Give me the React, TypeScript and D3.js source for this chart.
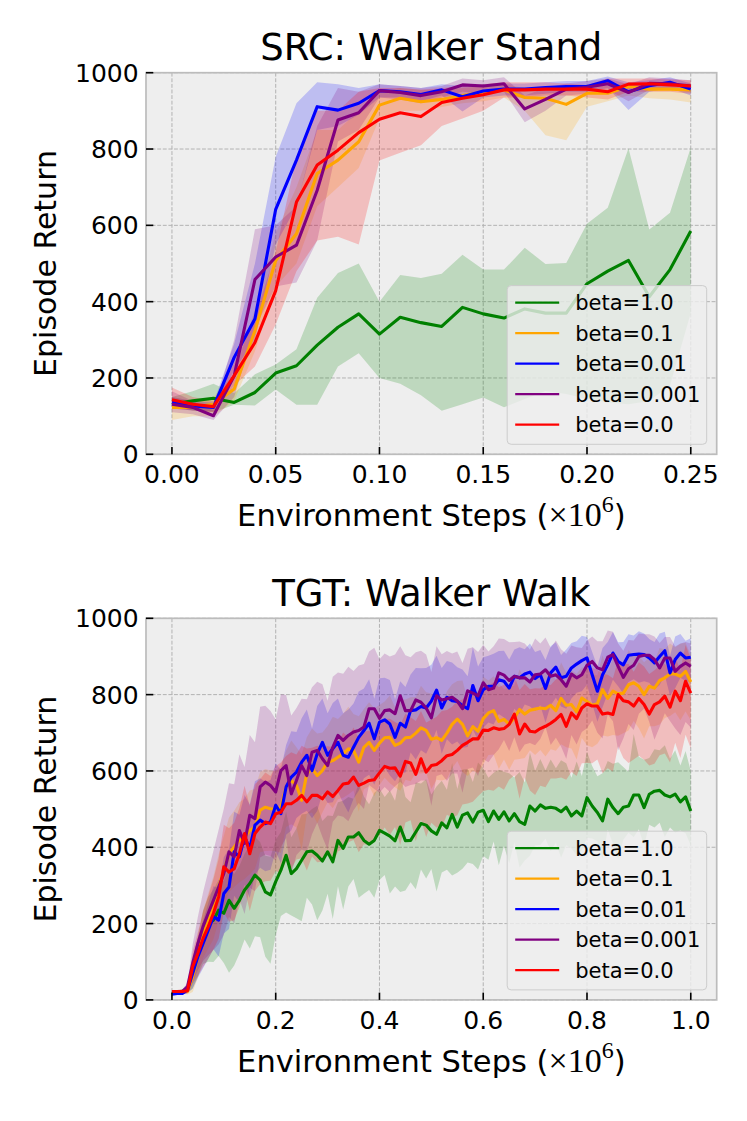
import * as d3 from "d3";

const W = 747;
const H = 1121;
const FONT = "DejaVu Sans, Verdana, sans-serif";
const MATH = "Liberation Serif, DejaVu Serif, serif";
const AX = { left: 146, right: 716.7, height: 381.6 };

// ---- shared labels ----
const betaLabels = ["beta=1.0", "beta=0.1", "beta=0.01", "beta=0.001", "beta=0.0"];
const betaColors = ["#008000", "#ffa500", "#0000ff", "#800080", "#ff0000"];
const yTicks = [0, 200, 400, 600, 800, 1000];
const srcXTicks = [0, 0.05, 0.1, 0.15, 0.2, 0.25];
const tgtXTicks = [0, 0.2, 0.4, 0.6, 0.8, 1.0];

// ---- SRC: Walker Stand (x step 0.01, 0 .. 0.25) ----
const srcStep = 0.01;
const srcBeta1 = [131, 140, 147, 136, 162, 213, 232, 286, 333, 368, 315, 359, 345, 335, 385, 368, 357, 381, 370, 370, 447, 480, 508, 413, 484, 585];
const srcBeta1Lo = [125, 115, 110, 130, 128, 170, 130, 130, 230, 265, 200, 185, 155, 114, 131, 149, 123, 145, 166, 158, 145, 136, 131, 140, 180, 370];
const srcBeta1Hi = [150, 165, 185, 160, 210, 235, 275, 410, 475, 500, 400, 470, 462, 473, 523, 484, 484, 541, 499, 501, 604, 646, 802, 589, 633, 804];
const srcBeta01 = [123, 123, 131, 171, 324, 508, 578, 736, 771, 819, 915, 933, 924, 930, 940, 949, 955, 935, 933, 917, 946, 946, 964, 957, 957, 955];
const srcBeta01Lo = [90, 100, 100, 140, 270, 440, 500, 650, 700, 750, 880, 900, 900, 910, 920, 925, 935, 900, 836, 823, 911, 925, 940, 933, 930, 922];
const srcBeta01Hi = [150, 140, 150, 210, 380, 580, 700, 850, 850, 900, 950, 960, 955, 955, 960, 965, 970, 960, 960, 955, 965, 965, 975, 970, 970, 975];
const srcBeta001 = [136, 127, 123, 254, 355, 642, 771, 911, 902, 920, 953, 950, 943, 955, 937, 952, 957, 957, 961, 964, 964, 979, 950, 966, 975, 957];
const srcBeta001Lo = [120, 115, 112, 220, 300, 550, 650, 850, 860, 890, 935, 935, 925, 940, 898, 935, 940, 940, 945, 950, 950, 960, 902, 950, 960, 940];
const srcBeta001Hi = [150, 140, 135, 290, 500, 780, 920, 975, 970, 960, 970, 965, 960, 970, 965, 970, 972, 972, 975, 978, 978, 990, 975, 980, 988, 972];
const srcBeta0001 = [131, 123, 101, 206, 458, 517, 548, 692, 876, 895, 953, 948, 940, 950, 968, 965, 971, 905, 930, 957, 962, 971, 948, 972, 971, 965];
const srcBeta0001Lo = [110, 105, 90, 150, 330, 440, 450, 560, 820, 850, 935, 930, 920, 935, 950, 945, 950, 870, 900, 940, 945, 955, 925, 955, 955, 950];
const srcBeta0001Hi = [165, 140, 115, 300, 590, 600, 650, 860, 960, 950, 970, 965, 960, 965, 985, 980, 988, 940, 960, 972, 978, 985, 970, 988, 985, 980];
const srcBeta0 = [143, 131, 125, 206, 293, 429, 661, 758, 797, 843, 878, 895, 885, 922, 933, 942, 955, 955, 957, 957, 957, 950, 970, 971, 968, 965];
const srcBeta0Lo = [120, 115, 110, 180, 230, 340, 480, 560, 570, 550, 770, 790, 810, 860, 880, 900, 935, 935, 940, 940, 935, 930, 950, 950, 950, 945];
const srcBeta0Hi = [175, 150, 140, 240, 360, 530, 780, 900, 900, 950, 960, 960, 955, 960, 965, 970, 975, 975, 975, 972, 968, 985, 985, 985, 982, 980];

// ---- TGT: Walker Walk (x step 0.01, 0 .. 1.0) ----
const tgtStep = 0.01;
const tgtBeta1 = [
  20, 20, 22, 26, 70, 122, 174, 200, 209, 235, 227, 261, 240, 261, 288, 305, 327, 314, 283, 275, 310,
  340, 379, 331, 344, 366, 388, 390, 379, 364, 388, 362, 418, 397, 427, 427, 438, 418, 408, 418, 444,
  437, 429, 417, 453, 417, 418, 440, 462, 458, 443, 434, 464, 451, 486, 453, 484, 490, 466, 492, 497,
  467, 495, 473, 493, 469, 488, 467, 460, 508, 495, 511, 502, 505, 502, 493, 505, 482, 495, 482, 530,
  508, 491, 469, 526, 504, 488, 505, 508, 537, 537, 504, 539, 547, 549, 537, 532, 539, 519, 532, 495,
];
const tgtBeta1Up = [
  4, 4, 6, 8, 30, 45, 60, 70, 80, 80, 85, 85, 90, 90, 95, 100, 100, 100, 95, 100, 110,
  100, 115, 95, 105, 120, 100, 110, 130, 105, 95, 120, 100, 125, 105, 100, 130, 115, 105, 125, 110,
  95, 120, 105, 140, 115, 100, 130, 105, 120, 95, 125, 110, 100, 135, 100, 120, 115, 105, 130, 110,
  115, 100, 130, 105, 125, 95, 130, 110, 140, 105, 120, 100, 125, 105, 135, 115, 100, 130, 105, 120,
  105, 95, 125, 100, 115, 135, 105, 90, 160, 100, 125, 95, 110, 105, 130, 100, 115, 95, 120, 105,
];
const tgtBeta1Down = [
  4, 4, 6, 8, 40, 60, 80, 100, 110, 120, 130, 190, 150, 140, 130, 170, 160, 150, 170, 180, 140,
  120, 150, 110, 130, 160, 120, 140, 170, 130, 110, 150, 120, 160, 130, 110, 170, 140, 120, 150, 130,
  110, 150, 120, 170, 130, 110, 150, 120, 140, 100, 150, 130, 110, 160, 120, 140, 130, 110, 150, 120,
  100, 80, 120, 90, 110, 75, 120, 95, 130, 90, 105, 80, 115, 90, 120, 100, 85, 115, 90, 105,
  85, 75, 100, 80, 95, 120, 85, 70, 110, 90, 100, 80, 95, 85, 110, 80, 100, 75, 95, 90,
];
const tgtBeta01 = [
  20, 20, 22, 22, 61, 113, 174, 209, 244, 296, 340, 383, 401, 418, 427, 444, 453, 497, 505, 501, 500,
  505, 558, 575, 562, 523, 593, 606, 588, 601, 623, 627, 636, 645, 658, 654, 623, 662, 675, 654, 673,
  687, 688, 667, 673, 687, 688, 699, 713, 706, 683, 687, 680, 699, 722, 736, 722, 692, 716, 704, 737,
  752, 758, 730, 735, 723, 739, 761, 749, 759, 762, 765, 763, 772, 758, 790, 772, 774, 755, 791, 782,
  772, 776, 813, 790, 809, 802, 804, 826, 831, 822, 800, 822, 817, 837, 844, 854, 854, 848, 861, 833,
];
const tgtBeta01Up = [
  4, 4, 5, 8, 35, 50, 60, 70, 80, 85, 90, 95, 95, 100, 100, 105, 100, 100, 100, 100, 100,
  110, 95, 105, 100, 120, 95, 105, 110, 100, 95, 115, 100, 105, 110, 95, 120, 100, 105, 110, 100,
  95, 110, 100, 115, 100, 105, 95, 110, 100, 120, 100, 95, 110, 105, 100, 115, 95, 105, 100, 110,
  85, 90, 100, 80, 95, 85, 105, 90, 80, 95, 85, 100, 90, 80, 95, 85, 90, 100, 80, 90,
  80, 75, 90, 70, 85, 80, 75, 90, 70, 80, 85, 75, 70, 85, 75, 80, 70, 85, 75, 70,
];
const tgtBeta01Down = [
  4, 4, 5, 8, 40, 55, 65, 75, 85, 90, 100, 100, 105, 110, 110, 115, 110, 110, 115, 110, 110,
  120, 105, 115, 110, 130, 105, 115, 125, 110, 105, 125, 110, 115, 120, 105, 130, 110, 115, 120, 110,
  105, 120, 110, 125, 110, 115, 105, 120, 110, 130, 110, 105, 120, 115, 110, 125, 105, 115, 110, 120,
  110, 115, 125, 105, 120, 110, 130, 115, 105, 120, 110, 125, 115, 105, 120, 110, 115, 125, 105, 115,
  110, 105, 120, 100, 115, 110, 105, 120, 100, 110, 115, 105, 100, 115, 105, 110, 100, 115, 105, 100,
];
const tgtBeta001 = [
  15, 17, 17, 26, 70, 113, 148, 183, 218, 209, 279, 296, 388, 375, 427, 397, 458, 471, 462, 466, 510,
  488, 558, 584, 597, 623, 641, 601, 645, 675, 641, 658, 675, 641, 636, 662, 688, 706, 725, 684, 728,
  734, 723, 688, 725, 715, 758, 760, 769, 765, 783, 812, 765, 793, 784, 782, 771, 763, 824, 784, 813,
  822, 822, 839, 835, 817, 848, 844, 854, 859, 842, 852, 816, 857, 872, 844, 848, 870, 880, 889, 896,
  852, 809, 852, 878, 909, 887, 878, 903, 905, 906, 905, 896, 883, 900, 915, 857, 892, 909, 896, 898,
];
const tgtBeta001Up = [
  3, 3, 4, 8, 35, 50, 60, 70, 80, 85, 95, 100, 105, 110, 110, 115, 115, 110, 110, 110, 110,
  115, 110, 120, 105, 115, 120, 110, 125, 115, 110, 120, 115, 110, 125, 115, 120, 110, 115, 105, 115,
  110, 115, 100, 110, 105, 95, 110, 100, 105, 95, 90, 105, 95, 100, 90, 95, 85, 100, 90, 85,
  80, 85, 75, 80, 75, 70, 80, 65, 75, 70, 65, 75, 70, 65, 60, 70, 65, 60, 65, 55,
  60, 65, 70, 60, 55, 50, 60, 55, 50, 60, 55, 50, 55, 60, 50, 45, 60, 50, 45, 50,
];
const tgtBeta001Down = [
  3, 3, 4, 8, 40, 55, 65, 75, 85, 95, 105, 110, 115, 120, 125, 130, 130, 125, 125, 125, 120,
  130, 125, 140, 120, 135, 145, 125, 150, 135, 125, 140, 130, 125, 145, 135, 140, 125, 135, 120, 130,
  125, 135, 115, 130, 120, 110, 130, 115, 120, 110, 105, 120, 110, 115, 105, 110, 100, 115, 105, 100,
  95, 100, 90, 95, 90, 85, 95, 80, 90, 85, 80, 90, 85, 80, 75, 85, 80, 75, 80, 70,
  75, 80, 85, 75, 70, 65, 75, 70, 65, 75, 70, 65, 70, 75, 65, 60, 75, 65, 60, 65,
];
const tgtBeta0001 = [
  22, 22, 22, 35, 96, 148, 192, 227, 261, 296, 331, 388, 375, 444, 410, 484, 475, 558, 571, 562, 545,
  601, 614, 540, 575, 614, 588, 649, 654, 632, 614, 662, 693, 680, 693, 702, 706, 715, 763, 763, 738,
  758, 760, 750, 797, 758, 758, 786, 780, 765, 739, 797, 786, 789, 793, 783, 763, 810, 804, 797, 831,
  813, 817, 857, 851, 837, 848, 844, 844, 833, 852, 854, 865, 848, 852, 839, 822, 854, 844, 852, 877,
  887, 870, 865, 898, 905, 874, 845, 868, 877, 900, 903, 903, 892, 870, 896, 896, 861, 874, 883, 874,
];
const tgtBeta0001Up = [
  4, 4, 6, 10, 50, 70, 90, 110, 130, 150, 170, 180, 190, 200, 200, 210, 200, 210, 200, 195, 190,
  200, 185, 205, 190, 175, 200, 170, 180, 195, 170, 185, 165, 175, 180, 160, 170, 165, 150, 160, 155,
  150, 140, 155, 130, 145, 140, 125, 135, 140, 120, 130, 120, 125, 115, 130, 120, 110, 120, 115, 100,
  100, 110, 90, 95, 100, 90, 95, 90, 85, 95, 80, 85, 75, 90, 80, 85, 75, 80, 70, 65,
  65, 70, 75, 70, 60, 60, 70, 75, 65, 60, 55, 55, 60, 65, 55, 55, 65, 60, 55, 60,
];
const tgtBeta0001Down = [
  4, 4, 6, 10, 50, 70, 90, 110, 130, 150, 160, 170, 175, 180, 185, 190, 190, 185, 190, 185, 180,
  200, 190, 210, 195, 220, 200, 215, 190, 205, 220, 195, 210, 200, 225, 205, 190, 215, 200, 210, 195,
  200, 215, 190, 225, 200, 195, 220, 205, 190, 230, 210, 195, 215, 200, 190, 220, 205, 195, 210, 200,
  190, 175, 200, 170, 185, 160, 195, 175, 160, 185, 170, 150, 180, 165, 175, 190, 160, 175, 150, 165,
  155, 170, 180, 150, 175, 220, 160, 145, 170, 150, 140, 175, 210, 155, 145, 165, 150, 180, 155, 160,
];
const tgtBeta0 = [
  22, 22, 22, 24, 87, 122, 161, 192, 227, 270, 349, 335, 344, 383, 436, 383, 436, 453, 466, 462, 488,
  492, 514, 514, 523, 536, 519, 536, 536, 527, 545, 533, 549, 566, 568, 584, 562, 568, 575, 577, 595,
  612, 607, 608, 586, 625, 621, 591, 632, 597, 614, 617, 627, 640, 643, 654, 667, 675, 684, 684, 707,
  706, 713, 709, 711, 722, 749, 697, 723, 704, 702, 711, 717, 725, 735, 748, 717, 752, 737, 765, 776,
  770, 770, 749, 752, 748, 800, 784, 781, 770, 790, 774, 749, 774, 781, 796, 767, 809, 784, 835, 804,
];
const tgtBeta0Up = [
  4, 4, 6, 8, 40, 55, 70, 80, 90, 100, 110, 115, 120, 120, 125, 125, 130, 125, 130, 125, 125,
  130, 125, 135, 120, 130, 140, 125, 130, 135, 120, 130, 125, 135, 120, 130, 125, 135, 130, 120, 130,
  125, 130, 120, 135, 125, 120, 140, 125, 130, 120, 125, 130, 120, 125, 130, 120, 125, 120, 115, 120,
  115, 120, 110, 115, 105, 100, 115, 105, 110, 115, 105, 110, 100, 105, 95, 110, 100, 105, 95, 100,
  100, 95, 105, 100, 95, 90, 95, 100, 90, 95, 100, 105, 90, 95, 85, 95, 90, 80, 95, 90,
];
const tgtBeta0Down = [
  4, 4, 6, 8, 45, 60, 75, 85, 95, 110, 120, 130, 135, 140, 145, 150, 150, 150, 155, 150, 150,
  160, 150, 170, 155, 165, 180, 160, 175, 165, 155, 175, 160, 170, 155, 165, 175, 160, 170, 155, 165,
  160, 175, 155, 180, 160, 150, 175, 160, 170, 150, 165, 175, 155, 165, 170, 155, 160, 165, 150, 160,
  155, 165, 150, 160, 145, 160, 170, 140, 155, 165, 150, 160, 145, 155, 165, 140, 155, 150, 145, 155,
  150, 140, 155, 145, 150, 135, 150, 160, 140, 150, 145, 135, 155, 140, 150, 145, 135, 150, 140, 145,
];

type Series = { mean: number[]; lo: number[]; hi: number[]; color: string; label: string };

const withBand = (mean: number[], up: number[], down: number[]) => ({
  mean,
  lo: mean.map((v, i) => v - down[i]),
  hi: mean.map((v, i) => v + up[i]),
});

const srcSeries: Series[] = [
  { mean: srcBeta1, lo: srcBeta1Lo, hi: srcBeta1Hi },
  { mean: srcBeta01, lo: srcBeta01Lo, hi: srcBeta01Hi },
  { mean: srcBeta001, lo: srcBeta001Lo, hi: srcBeta001Hi },
  { mean: srcBeta0001, lo: srcBeta0001Lo, hi: srcBeta0001Hi },
  { mean: srcBeta0, lo: srcBeta0Lo, hi: srcBeta0Hi },
].map((s, i) => ({ ...s, color: betaColors[i], label: betaLabels[i] }));

const tgtSeries: Series[] = [
  withBand(tgtBeta1, tgtBeta1Up, tgtBeta1Down),
  withBand(tgtBeta01, tgtBeta01Up, tgtBeta01Down),
  withBand(tgtBeta001, tgtBeta001Up, tgtBeta001Down),
  withBand(tgtBeta0001, tgtBeta0001Up, tgtBeta0001Down),
  withBand(tgtBeta0, tgtBeta0Up, tgtBeta0Down),
].map((s, i) => ({ ...s, color: betaColors[i], label: betaLabels[i] }));

type PanelProps = {
  id: string;
  top: number;
  title: string;
  xDomain: [number, number];
  xTicks: number[];
  xFmt: (v: number) => string;
  step: number;
  series: Series[];
};

const Panel = ({ id, top, title, xDomain, xTicks, xFmt, step, series }: PanelProps) => {
  const bottom = top + AX.height;
  const x = d3.scaleLinear().domain(xDomain).range([AX.left, AX.right]);
  const y = d3.scaleLinear().domain([0, 1000]).range([bottom, top]);
  const midX = (AX.left + AX.right) / 2;
  const midY = (top + bottom) / 2;

  const line = d3
    .line<number>()
    .x((_, i) => x(i * step))
    .y((d) => y(d));

  // legend box, anchored lower right
  const legW = 199.5;
  const legH = 158.7;
  const legX = AX.right - 10 - legW;
  const legY = bottom - 10 - legH;

  return (
    <g>
      <defs>
        <clipPath id={`clip-${id}`}>
          <rect x={AX.left} y={top} width={AX.right - AX.left} height={AX.height} />
        </clipPath>
      </defs>
      <rect x={AX.left} y={top} width={AX.right - AX.left} height={AX.height} fill="#eeeeee" />

      {/* grid */}
      <g stroke="#b2b2b2" strokeWidth={1} strokeDasharray="3.9,1.7">
        {xTicks.map((t) => (
          <line key={`gx${t}`} x1={x(t)} x2={x(t)} y1={top} y2={bottom} />
        ))}
        {yTicks.map((t) => (
          <line key={`gy${t}`} x1={AX.left} x2={AX.right} y1={y(t)} y2={y(t)} />
        ))}
      </g>

      <g clipPath={`url(#clip-${id})`}>
        {series.map((s) => {
          const band = d3
            .area<number>()
            .x((_, i) => x(i * step))
            .y0((_, i) => y(s.lo[i]))
            .y1((_, i) => y(s.hi[i]));
          return <path key={`b${s.label}`} d={band(s.mean) || ""} fill={s.color} fillOpacity={0.2} />;
        })}
        {series.map((s) => (
          <path
            key={`l${s.label}`}
            d={line(s.mean) || ""}
            fill="none"
            stroke={s.color}
            strokeWidth={3.1}
            strokeLinejoin="round"
          />
        ))}
      </g>

      {/* spines */}
      <rect
        x={AX.left}
        y={top}
        width={AX.right - AX.left}
        height={AX.height}
        fill="none"
        stroke="#bcbcbc"
        strokeWidth={1.7}
      />

      {/* ticks (pointing in) and labels */}
      <g stroke="#000" strokeWidth={1.6}>
        {xTicks.map((t) => (
          <line key={`tx${t}`} x1={x(t)} x2={x(t)} y1={bottom} y2={bottom - 7.3} />
        ))}
        {yTicks.map((t) => (
          <line key={`ty${t}`} x1={AX.left} x2={AX.left + 7.3} y1={y(t)} y2={y(t)} />
        ))}
      </g>
      <g fontFamily={FONT} fontSize={25} fill="#000">
        {xTicks.map((t) => (
          <text key={`lx${t}`} x={x(t)} y={bottom + 29} textAnchor="middle">
            {xFmt(t)}
          </text>
        ))}
        {yTicks.map((t) => (
          <text key={`ly${t}`} x={AX.left - 7.3} y={y(t) + 9} textAnchor="end">
            {t}
          </text>
        ))}
      </g>

      {/* title and axis labels */}
      <text x={midX} y={top - 12.5} textAnchor="middle" fontFamily={FONT} fontSize={37}>
        {title}
      </text>
      <text x={midX} y={bottom + 72} textAnchor="middle" fontFamily={FONT} fontSize={30.5}>
        <tspan>Environment Steps (</tspan>
        <tspan fontFamily={MATH} fontSize={34}>×10</tspan>
        <tspan fontFamily={MATH} fontSize={24} dy={-14}>6</tspan>
        <tspan dy={14}>)</tspan>
      </text>
      <text
        transform={`translate(56,${midY}) rotate(-90)`}
        textAnchor="middle"
        fontFamily={FONT}
        fontSize={30}
      >
        Episode Return
      </text>

      {/* legend */}
      <rect
        x={legX}
        y={legY}
        width={legW}
        height={legH}
        rx={4}
        fill="#eeeeee"
        fillOpacity={0.8}
        stroke="#cccccc"
        strokeWidth={1}
      />
      {series.map((s, i) => {
        const cy = legY + 17 + i * 30.5;
        return (
          <g key={`lg${s.label}`}>
            <line x1={legX + 8} x2={legX + 52} y1={cy} y2={cy} stroke={s.color} strokeWidth={2.2} />
            <text x={legX + 68} y={cy + 7.5} fontFamily={FONT} fontSize={21}>
              {s.label}
            </text>
          </g>
        );
      })}
    </g>
  );
};

export default function App() {
  return (
    <svg
      width={W}
      height={H}
      viewBox={`0 0 ${W} ${H}`}
      style={{ position: "absolute", left: 0, top: 0, background: "#fff" }}
    >
      <rect width={W} height={H} fill="#fff" />
      <Panel
        id="src"
        top={72.7}
        title="SRC: Walker Stand"
        xDomain={[-0.0125, 0.2625]}
        xTicks={srcXTicks}
        xFmt={d3.format(".2f")}
        step={srcStep}
        series={srcSeries}
      />
      <Panel
        id="tgt"
        top={618.3}
        title="TGT: Walker Walk"
        xDomain={[-0.05, 1.05]}
        xTicks={tgtXTicks}
        xFmt={d3.format(".1f")}
        step={tgtStep}
        series={tgtSeries}
      />
    </svg>
  );
}
